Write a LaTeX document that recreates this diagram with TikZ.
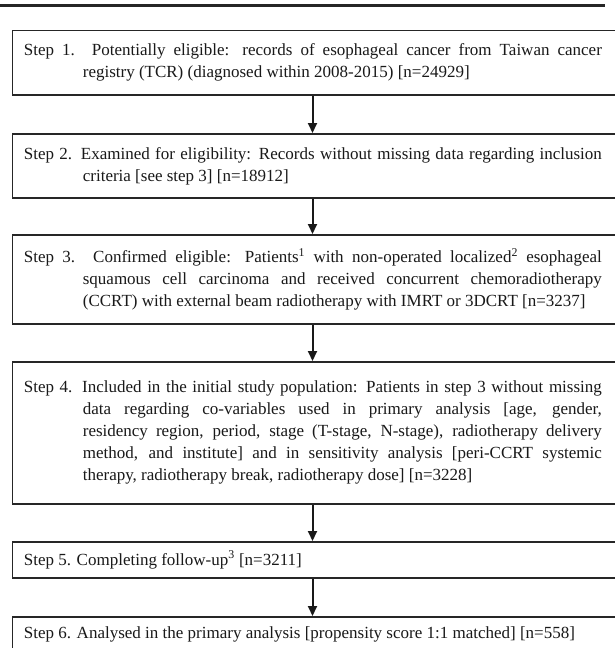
\documentclass[tikz,border=0pt]{standalone}
\usepackage{fontspec}
\setmainfont{Liberation Serif}
\usetikzlibrary{arrows.meta}
\newcommand{\stepbody}[1]{\parbox{578pt}{\fontsize{17}{22}\selectfont\tolerance=10000\hbadness=10000\hfuzz=20pt\hangindent=59pt\hangafter=1\noindent #1}\hspace*{22pt}}
\tikzset{
  stepbox/.style={draw=black!85, line width=1.7pt, anchor=north west, inner xsep=11.5pt, inner ysep=0pt, fill=white, text=black!90},
  arr/.style={draw=black!90, line width=2pt, -{Triangle[length=10pt,width=9pt]}}
}
\begin{document}
\begin{tikzpicture}[x=1pt,y=-1pt]
\clip (0,0) rectangle (615,648);
\fill[white] (0,0) rectangle (615,648);
\draw[line width=3pt, black!85] (0,5.7) -- (605,5.7);
\coordinate (ax) at (312.5,0);
\node[stepbox, minimum height=64.5pt] (s1) at (11.5,29.5) {\stepbody{Step 1. Potentially eligible: records of esophageal cancer from Taiwan cancer\linebreak registry (TCR) (diagnosed within 2008-2015) [n=24929]}};
\node[stepbox, minimum height=64pt] (s2) at (11.5,133) {\stepbody{Step 2. Examined for eligibility: Records without missing data regarding inclusion\linebreak criteria [see step 3] [n=18912]}};
\node[stepbox, minimum height=89pt] (s3) at (11.5,234) {\stepbody{Step 3. Confirmed eligible: Patients\textsuperscript{1} with non-operated localized\textsuperscript{2} esophageal\linebreak squamous cell carcinoma and received concurrent chemoradiotherapy\linebreak (CCRT) with external beam radiotherapy with IMRT or 3DCRT [n=3237]}};
\node[stepbox, minimum height=142pt] (s4) at (11.5,361) {\stepbody{Step 4. Included in the initial study population: Patients in step 3 without missing\linebreak data regarding co-variables used in primary analysis [age, gender,\linebreak residency region, period, stage (T-stage, N-stage), radiotherapy delivery\linebreak method, and institute] and in sensitivity analysis [peri-CCRT systemic\linebreak therapy, radiotherapy break, radiotherapy dose] [n=3228]}};
\node[stepbox, minimum height=36pt] (s5) at (11.5,541) {\stepbody{Step 5. Completing follow-up\textsuperscript{3} [n=3211]}};
\node[stepbox, minimum height=36pt] (s6) at (11.5,616) {\stepbody{Step 6. Analysed in the primary analysis [propensity score 1:1 matched] [n=558]}};
\draw[arr] (s1.south -| ax) -- (s2.north -| ax);
\draw[arr] (s2.south -| ax) -- (s3.north -| ax);
\draw[arr] (s3.south -| ax) -- (s4.north -| ax);
\draw[arr] (s4.south -| ax) -- (s5.north -| ax);
\draw[arr] (s5.south -| ax) -- (s6.north -| ax);
\end{tikzpicture}
\end{document}
